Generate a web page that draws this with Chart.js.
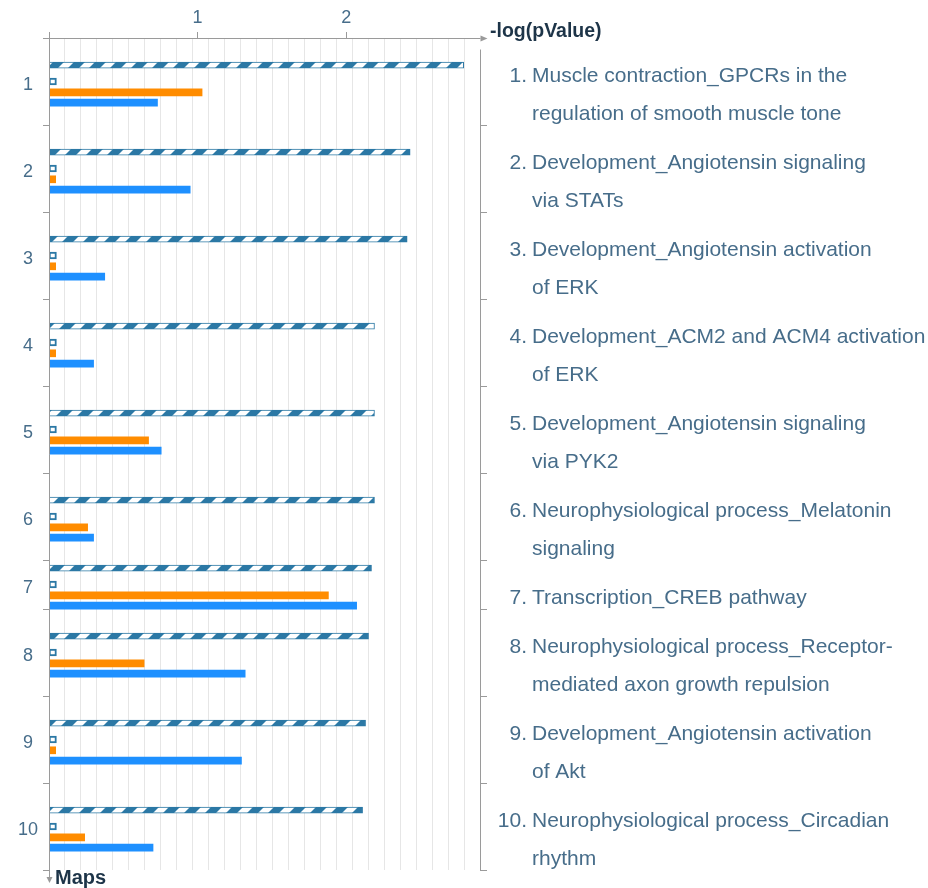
<!DOCTYPE html>
<html>
<head>
<meta charset="utf-8">
<title>Maps</title>
<script src="https://cdn.jsdelivr.net/npm/chart.js@4.4.1/dist/chart.umd.min.js"></script>
<style>
  html, body { margin: 0; padding: 0; background: #fff; }
  canvas { display: block; }
</style>
</head>
<body>
<canvas id="mapsChart" width="928" height="888"></canvas>
<script>
// pathway maps, one entry per row (each entry = lines of the label)
const mapNames = [
    ['Muscle contraction_GPCRs in the', 'regulation of smooth muscle tone'],
    ['Development_Angiotensin signaling', 'via STATs'],
    ['Development_Angiotensin activation', 'of ERK'],
    ['Development_ACM2 and ACM4 activation', 'of ERK'],
    ['Development_Angiotensin signaling', 'via PYK2'],
    ['Neurophysiological process_Melatonin', 'signaling'],
    ['Transcription_CREB pathway'],
    ['Neurophysiological process_Receptor-', 'mediated axon growth repulsion'],
    ['Development_Angiotensin activation', 'of Akt'],
    ['Neurophysiological process_Circadian', 'rhythm']
];

// -log(pValue) per map
const hatchedScores = [2.79, 2.43, 2.41, 2.19, 2.19, 2.19, 2.17, 2.15, 2.13, 2.11];
const markerScores = [0.05, 0.05, 0.05, 0.05, 0.05, 0.05, 0.05, 0.05, 0.05, 0.05];
const orangeScores = [1.03, 0.045, 0.045, 0.045, 0.67, 0.26, 1.88, 0.64, 0.045, 0.24];
const blueScores = [0.73, 0.95, 0.375, 0.30, 0.755, 0.30, 2.07, 1.32, 1.295, 0.70];

const xTickValues = [1, 2];

const X_MAX = 2.9;
const GRID_STEPS = 27;

const axisGray = '#9a9a9a';
const gridGray = '#e6e6e6';
const labelBlue = '#476d8a';
const titleDark = '#1d3448';
const hatchBlue = '#2b78a5';
const fontFamily = '"Liberation Sans", Arial, Helvetica, sans-serif';

// row layout: rows grow with the number of label lines
const LINE_H = 38;
const ROW_PAD = 11;
const rowHeights = mapNames.map(lines => ROW_PAD + LINE_H * lines.length);
const rowTops = [];
let yMax = 0;
rowHeights.forEach(h => { rowTops.push(yMax); yMax += h; });
const rowMid = i => rowTops[i] + rowHeights[i] / 2;

// vertical offset of each series inside its row
const barOffsets = [-16.3, 0, 10.8, 21.2];

function rowPoints(values, k) {
    return values.map((v, i) => ({ x: v, y: rowMid(i) + barOffsets[k] }));
}

// fixed axis sizes, no extra label padding
function fixSize(prop, size) {
    return s => {
        s[prop] = size;
        s.paddingTop = 0;
        s.paddingBottom = 0;
        s.paddingLeft = 0;
        s.paddingRight = 0;
    };
}

// seamless diagonal stripe tile for the first series
function makeStripes() {
    const size = 21;
    const tile = document.createElement('canvas');
    tile.width = size;
    tile.height = size;
    const c = tile.getContext('2d');
    c.fillStyle = hatchBlue;
    c.fillRect(0, 0, size, size);
    c.fillStyle = '#ffffff';
    [-size, 0].forEach(s => {
        c.beginPath();
        c.moveTo(s, size);
        c.lineTo(s + 10, size);
        c.lineTo(s + 10 + size, 0);
        c.lineTo(s + size, 0);
        c.closePath();
        c.fill();
    });
    return c.createPattern(tile, 'repeat');
}

// axis lines, arrows, brackets and the map list on the right
const framePlugin = {
    id: 'frame',
    afterDatasetsDraw(chart) {
        const { ctx, chartArea: a, scales: { y } } = chart;
        const L = a.left + 0.5, T = a.top + 0.5, R = a.right + 0.5, B = a.bottom;

        ctx.save();
        ctx.strokeStyle = axisGray;
        ctx.fillStyle = axisGray;
        ctx.lineWidth = 1;

        ctx.beginPath();
        // top axis
        ctx.moveTo(L - 6.5, T);
        ctx.lineTo(R, T);
        // left axis
        ctx.moveTo(L, T - 6.5);
        ctx.lineTo(L, B + 7);
        // left ticks at row boundaries
        rowTops.slice(1).concat(yMax).forEach(v => {
            const py = Math.round(y.getPixelForValue(v)) + 0.5;
            ctx.moveTo(L - 6.5, py);
            ctx.lineTo(L, py);
        });
        // right bracket
        ctx.moveTo(R, T + 11);
        ctx.lineTo(R, B + 0.5);
        ctx.stroke();

        // arrow heads
        ctx.beginPath();
        ctx.moveTo(R, T - 3);
        ctx.lineTo(R + 7, T);
        ctx.lineTo(R, T + 3);
        ctx.closePath();
        ctx.fill();
        ctx.beginPath();
        ctx.moveTo(L - 3, B + 7);
        ctx.lineTo(L + 3, B + 7);
        ctx.lineTo(L, B + 13);
        ctx.closePath();
        ctx.fill();

        // axis titles
        ctx.fillStyle = titleDark;
        ctx.font = 'bold 19.5px ' + fontFamily;
        ctx.textAlign = 'left';
        ctx.textBaseline = 'alphabetic';
        ctx.fillText('-log(pValue)', R + 9.5, 37);
        ctx.font = 'bold 20px ' + fontFamily;
        ctx.fillText('Maps', L + 5.5, 884);

        // numbered map list
        ctx.fillStyle = labelBlue;
        ctx.font = '21px ' + fontFamily;
        mapNames.forEach((lines, i) => {
            const top = y.getPixelForValue(rowTops[i]);
            lines.forEach((text, j) => {
                const base = top + 43.5 + LINE_H * j;
                if (j === 0) {
                    ctx.textAlign = 'right';
                    ctx.fillText((i + 1) + '.', 527, base);
                }
                ctx.textAlign = 'left';
                ctx.fillText(text, 532, base);
            });
        });
        ctx.restore();
    }
};

const ctx = document.getElementById('mapsChart').getContext('2d');
new Chart(ctx, {
    type: 'bar',
    data: {
        datasets: [
            {
                data: rowPoints(hatchedScores, 0),
                backgroundColor: makeStripes(),
                borderColor: hatchBlue,
                borderWidth: 1,
                borderSkipped: false,
                barThickness: 6
            },
            {
                data: rowPoints(markerScores, 1),
                backgroundColor: '#ffffff',
                borderColor: hatchBlue,
                borderWidth: 2,
                borderSkipped: false,
                barThickness: 7
            },
            {
                data: rowPoints(orangeScores, 2),
                backgroundColor: '#ff8c00',
                borderWidth: 0,
                barThickness: 7
            },
            {
                data: rowPoints(blueScores, 3),
                backgroundColor: '#1e90ff',
                borderWidth: 0,
                barThickness: 7
            }
        ]
    },
    options: {
        responsive: false,
        animation: false,
        events: [],
        indexAxis: 'y',
        layout: { padding: { top: 0, left: 0, right: 0, bottom: 18 } },
        datasets: { bar: { grouped: false } },
        plugins: {
            legend: { display: false },
            tooltip: { enabled: false }
        },
        scales: {
            x: {
                type: 'linear',
                position: 'top',
                min: 0,
                max: X_MAX,
                afterBuildTicks: s => { s.ticks = xTickValues.map(v => ({ value: v })); },
                afterFit: fixSize('height', 38),
                ticks: { color: labelBlue, font: { family: fontFamily, size: 18 }, padding: 3 },
                grid: { drawOnChartArea: false, drawTicks: true, tickLength: 6, color: axisGray },
                border: { display: false }
            },
            x2: {
                type: 'linear',
                position: 'top',
                min: 0,
                max: GRID_STEPS,
                afterBuildTicks: s => {
                    const t = [];
                    for (let i = 0; i <= GRID_STEPS; i++) t.push({ value: i });
                    s.ticks = t;
                },
                afterFit: fixSize('height', 0),
                ticks: { display: false },
                grid: {
                    drawTicks: false,
                    color: c => (c.index === 0 || c.index === GRID_STEPS) ? 'rgba(0,0,0,0)' : gridGray
                },
                border: { display: false }
            },
            y: {
                type: 'linear',
                position: 'left',
                reverse: true,
                offset: false,
                min: 0,
                max: yMax,
                afterBuildTicks: s => { s.ticks = mapNames.map((m, i) => ({ value: rowMid(i) + 3.5 })); },
                afterFit: fixSize('width', 49),
                ticks: {
                    autoSkip: false,
                    crossAlign: 'center',
                    padding: 11,
                    color: labelBlue,
                    font: { family: fontFamily, size: 18 },
                    callback: (v, i) => String(i + 1)
                },
                grid: { display: false, drawTicks: false, offset: false },
                border: { display: false }
            },
            y2: {
                type: 'linear',
                position: 'right',
                reverse: true,
                offset: false,
                min: 0,
                max: yMax,
                afterBuildTicks: s => { s.ticks = rowTops.slice(1).concat(yMax).map(v => ({ value: v })); },
                afterFit: fixSize('width', 448),
                ticks: { display: false },
                grid: { drawOnChartArea: false, drawTicks: true, tickLength: 7, color: axisGray, offset: false },
                border: { display: false }
            }
        }
    },
    plugins: [framePlugin]
});
</script>
</body>
</html>
